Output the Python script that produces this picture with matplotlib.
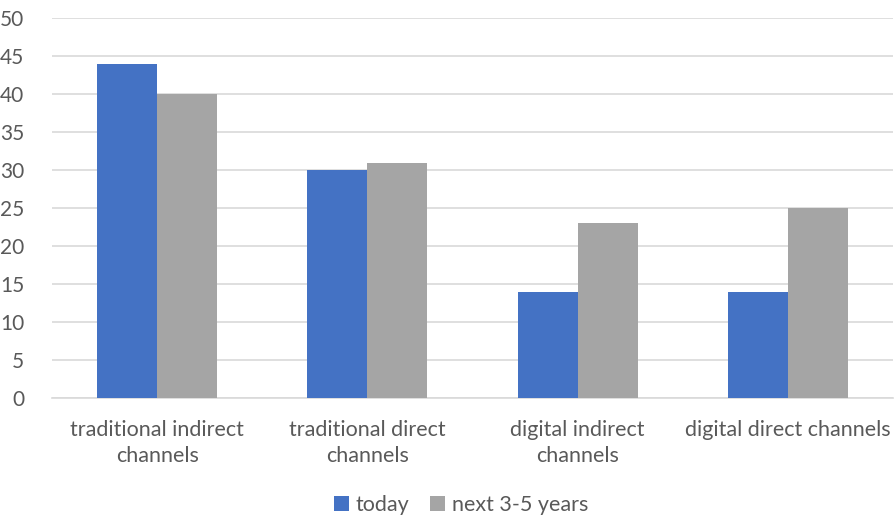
import matplotlib.pyplot as plt
import numpy as np

categories = ["traditional indirect\nchannels", "traditional direct\nchannels",
              "digital indirect\nchannels", "digital direct channels"]
today = [44, 30, 14, 14]
next_years = [40, 31, 23, 25]
yticks = [0, 5, 10, 15, 20, 25, 30, 35, 40, 45, 50]

plt.rcParams['font.family'] = ['Lato', 'DejaVu Sans']
txt = '#595959'

fig = plt.figure(figsize=(8.95, 5.19), dpi=100)
ax = fig.add_axes([0.058, 0.233, 0.94, 0.732])

x = np.arange(len(categories))
w = 60 / 210
ax.bar(x - w / 2, today, w, color='#4472C4', label='today', zorder=3)
ax.bar(x + w / 2, next_years, w, color='#A5A5A5', label='next 3-5 years', zorder=3)

ax.set_xlim(-0.5, len(categories) - 0.5)
ax.set_ylim(0, 50)
ax.set_yticks(yticks)
ax.yaxis.grid(True, color='#D9D9D9', linewidth=1.2, zorder=0)
ax.set_axisbelow(True)
for s in ['top', 'right', 'left']:
    ax.spines[s].set_visible(False)
ax.spines['bottom'].set_color('#D9D9D9')
ax.spines['bottom'].set_linewidth(1.2)
ax.tick_params(axis='both', length=0, colors=txt)
ax.tick_params(axis='y', pad=20, labelsize=15)
ax.tick_params(axis='x', pad=16, labelsize=15.5)
ax.set_xticks(x)
ax.set_xticklabels(categories, linespacing=1.35)

fig.legend(loc='lower center', bbox_to_anchor=(0.515, -0.03), ncol=2, frameon=False,
           fontsize=15.5, labelcolor=txt, handlelength=0.7, handleheight=0.7,
           handletextpad=0.3, columnspacing=1.0)

fig.savefig('out.png', dpi=100)
